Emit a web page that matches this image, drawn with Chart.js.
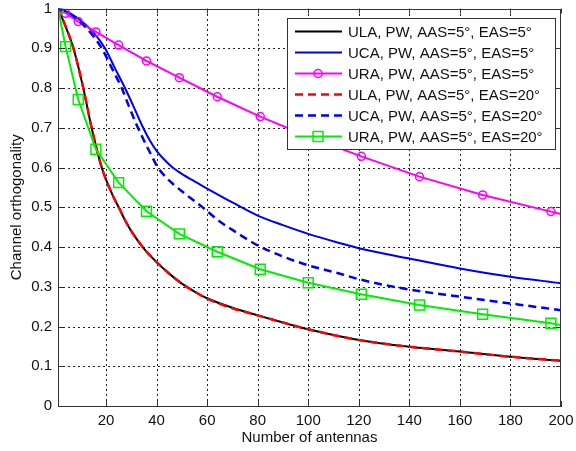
<!DOCTYPE html>
<html>
<head>
<meta charset="utf-8">
<script src="https://cdn.jsdelivr.net/npm/chart.js@4.4.0/dist/chart.umd.min.js"></script>
<style>
html, body { margin: 0; padding: 0; background: #fff; }
#wrap { width: 576px; height: 451px; }
</style>
</head>
<body>
<div id="wrap"><canvas id="chart" width="576" height="451"></canvas></div>
<script>
// series labels (legend order)
var seriesLabels = [
    'ULA, PW, AAS=5°, EAS=5°',
    'UCA, PW, AAS=5°, EAS=5°',
    'URA, PW, AAS=5°, EAS=5°',
    'ULA, PW, AAS=5°, EAS=20°',
    'UCA, PW, AAS=5°, EAS=20°',
    'URA, PW, AAS=5°, EAS=20°'
];

var xTicks = [20, 40, 60, 80, 100, 120, 140, 160, 180, 200];
var yTicks = [0, 0.1, 0.2, 0.3, 0.4, 0.5, 0.6, 0.7, 0.8, 0.9, 1];
var yTickLabels = ['0', '0.1', '0.2', '0.3', '0.4', '0.5', '0.6', '0.7', '0.8', '0.9', '1'];

// ULA (both EAS values lie on top of each other)
var ulaX = [1, 4, 7.1, 11, 14.3, 18.3, 22.5, 25.5, 27, 30, 35, 40, 45, 50, 55, 60, 70, 80, 90, 100, 120, 140, 160, 180, 200];
var ulaY5 = [1, 0.955, 0.9, 0.8, 0.7, 0.6, 0.532, 0.494, 0.474, 0.44, 0.396, 0.362, 0.333, 0.308, 0.288, 0.271, 0.247, 0.228, 0.21, 0.193, 0.166, 0.149, 0.137, 0.124, 0.114];
var ulaY20 = [1, 0.955, 0.9, 0.8, 0.7, 0.6, 0.532, 0.494, 0.474, 0.44, 0.396, 0.362, 0.333, 0.308, 0.288, 0.27, 0.246, 0.228, 0.21, 0.193, 0.166, 0.149, 0.137, 0.124, 0.114];

// UCA
var ucaX5 = [1, 5, 10, 15, 19.6, 23.5, 27.5, 31, 34.3, 37, 40, 43, 46, 50, 55, 60, 70, 80, 90, 100, 113, 120, 140, 160, 180, 200];
var ucaY5 = [1, 0.99, 0.97, 0.94, 0.9, 0.85, 0.8, 0.752, 0.705, 0.672, 0.642, 0.62, 0.602, 0.584, 0.565, 0.547, 0.512, 0.479, 0.455, 0.433, 0.409, 0.397, 0.371, 0.346, 0.325, 0.309];
var ucaX20 = [1, 5, 10, 15, 18.3, 22.3, 26.2, 29, 31.8, 35, 38, 40.3, 43, 46.6, 50, 54.5, 58, 65, 70, 80, 90, 100, 113, 120, 140, 160, 180, 200];
var ucaY20 = [1, 0.99, 0.965, 0.93, 0.9, 0.85, 0.8, 0.755, 0.712, 0.668, 0.63, 0.602, 0.58, 0.558, 0.54, 0.518, 0.501, 0.464, 0.443, 0.404, 0.376, 0.354, 0.332, 0.319, 0.293, 0.275, 0.258, 0.241];

// URA (square numbers of antennas)
var uraX = [1, 4, 9, 16, 25, 36, 49, 64, 81, 100, 121, 144, 169, 196, 200];
var uraY5 = [1, 0.988, 0.967, 0.941, 0.908, 0.868, 0.826, 0.778, 0.728, 0.678, 0.628, 0.577, 0.531, 0.489, 0.483];
var uraY20 = [1, 0.904, 0.771, 0.646, 0.562, 0.49, 0.433, 0.388, 0.344, 0.31, 0.281, 0.254, 0.231, 0.208, 0.204];

var FONT = '"Liberation Sans", Arial, Helvetica, sans-serif';

function pts(xs, ys) {
    return xs.map(function(x, i) { return { x: x, y: ys[i] }; });
}

// no marker on the closing point at N=200
function markerRadius(r) {
    return function(ctx) {
        return ctx.raw && ctx.raw.x === 200 ? 0 : r;
    };
}

var smooth = { tension: 0.4, cubicInterpolationMode: 'monotone' };

var datasets = [
    Object.assign({ label: seriesLabels[0], data: pts(ulaX, ulaY5), borderColor: '#000', borderWidth: 2, pointRadius: 0, order: 5 }, smooth),
    Object.assign({ label: seriesLabels[1], data: pts(ucaX5, ucaY5), borderColor: '#0000f0', borderWidth: 2, pointRadius: 0, order: 4 }, smooth),
    { label: seriesLabels[2], data: pts(uraX, uraY5), borderColor: '#ff00ff', borderWidth: 2, tension: 0,
      pointStyle: 'circle', pointRadius: markerRadius(4), pointBorderWidth: 1.5,
      pointBorderColor: '#ff00ff', pointBackgroundColor: 'rgba(0,0,0,0)', order: 3, legendRadius: 4 },
    Object.assign({ label: seriesLabels[3], data: pts(ulaX, ulaY20), borderColor: '#ff0000', borderWidth: 2.5, borderDash: [8, 5], pointRadius: 0, order: 2 }, smooth),
    Object.assign({ label: seriesLabels[4], data: pts(ucaX20, ucaY20), borderColor: '#0000f0', borderWidth: 2.5, borderDash: [8, 5], pointRadius: 0, order: 1 }, smooth),
    { label: seriesLabels[5], data: pts(uraX, uraY20), borderColor: '#00ee00', borderWidth: 2, tension: 0,
      pointStyle: 'rect', pointRadius: markerRadius(7), pointBorderWidth: 1.5,
      pointBorderColor: '#00ee00', pointBackgroundColor: 'rgba(0,0,0,0)', order: 0, legendRadius: 7 }
];

// dotted grid under the lines
var dotGrid = {
    id: 'dotGrid',
    beforeDatasetsDraw: function(chart) {
        var ctx = chart.ctx, a = chart.chartArea;
        var xs = chart.scales.x, ys = chart.scales.y;
        ctx.save();
        ctx.setLineDash([2, 3]);
        ctx.strokeStyle = '#222';
        ctx.lineWidth = 1;
        ctx.beginPath();
        xTicks.forEach(function(v) {
            if (v === 200) return;
            var px = Math.round(xs.getPixelForValue(v)) + 0.5;
            ctx.moveTo(px, a.bottom); ctx.lineTo(px, a.top);
        });
        yTicks.forEach(function(v) {
            if (v === 0 || v === 1) return;
            var py = Math.round(ys.getPixelForValue(v)) + 0.5;
            ctx.moveTo(a.left, py); ctx.lineTo(a.right, py);
        });
        ctx.stroke();
        ctx.restore();
    }
};

// axes box on top of the lines, with small inward ticks like matlab
var framePlugin = {
    id: 'frame',
    afterDatasetsDraw: function(chart) {
        var ctx = chart.ctx, a = chart.chartArea;
        var xs = chart.scales.x, ys = chart.scales.y;
        ctx.save();
        ctx.strokeStyle = '#333';
        ctx.lineWidth = 1;
        ctx.strokeRect(Math.round(a.left) + 0.5, Math.round(a.top) + 0.5,
            Math.round(a.right - a.left) - 1, Math.round(a.bottom - a.top) - 1);
        ctx.beginPath();
        xTicks.forEach(function(v) {
            var px = Math.round(xs.getPixelForValue(v)) + 0.5;
            ctx.moveTo(px, a.bottom); ctx.lineTo(px, a.bottom - 5);
            ctx.moveTo(px, a.top); ctx.lineTo(px, a.top + 5);
        });
        yTicks.forEach(function(v) {
            var py = Math.round(ys.getPixelForValue(v)) + 0.5;
            ctx.moveTo(a.left, py); ctx.lineTo(a.left + 5, py);
            ctx.moveTo(a.right, py); ctx.lineTo(a.right - 5, py);
        });
        ctx.stroke();
        ctx.restore();
    }
};

// legend box inside the plot, top right
var boxLegend = {
    id: 'boxLegend',
    afterDraw: function(chart) {
        var ctx = chart.ctx, a = chart.chartArea;
        var w = 268, h = 131;
        var x0 = Math.round(a.right) - 6 - w, y0 = Math.round(a.top) + 9;
        ctx.save();
        ctx.fillStyle = '#fff';
        ctx.fillRect(x0, y0, w, h);
        ctx.strokeStyle = '#333';
        ctx.lineWidth = 1;
        ctx.strokeRect(x0 + 0.5, y0 + 0.5, w, h);
        chart.data.datasets.forEach(function(ds, i) {
            var cy = y0 + 13.5 + i * 21;
            ctx.setLineDash(ds.borderDash || []);
            ctx.strokeStyle = ds.borderColor;
            ctx.lineWidth = ds.borderWidth;
            ctx.beginPath();
            ctx.moveTo(x0 + 8, cy);
            ctx.lineTo(x0 + 55, cy);
            ctx.stroke();
            ctx.setLineDash([]);
            if (ds.legendRadius) {
                ctx.fillStyle = 'rgba(0,0,0,0)';
                ctx.lineWidth = 1.5;
                Chart.helpers.drawPoint(ctx, { pointStyle: ds.pointStyle, radius: ds.legendRadius, borderWidth: 1.5, rotation: 0 }, x0 + 31, cy);
            }
            ctx.fillStyle = '#111';
            ctx.font = '15px ' + FONT;
            ctx.textBaseline = 'middle';
            ctx.textAlign = 'left';
            ctx.fillText(ds.label, x0 + 61, cy + 1);
        });
        ctx.restore();
    }
};

new Chart(document.getElementById('chart'), {
    type: 'line',
    data: { datasets: datasets },
    options: {
        responsive: false,
        animation: false,
        devicePixelRatio: 1,
        layout: { padding: { left: 0, right: 15, top: 8, bottom: 0 } },
        plugins: {
            legend: { display: false },
            tooltip: { enabled: false }
        },
        scales: {
            x: {
                type: 'linear',
                min: 1,
                max: 200,
                afterBuildTicks: function(scale) {
                    scale.ticks = xTicks.map(function(v) { return { value: v }; });
                },
                afterFit: function(scale) {
                    scale.height = 45;
                    scale.paddingLeft = 0;
                    scale.paddingRight = 0;
                },
                ticks: {
                    color: '#111',
                    padding: 6,
                    maxRotation: 0,
                    font: { family: FONT, size: 15 },
                    callback: function(v) { return String(v); }
                },
                grid: { display: false, drawTicks: false },
                border: { display: true, color: '#333', width: 1 },
                title: {
                    display: true,
                    text: 'Number of antennas',
                    color: '#111',
                    font: { family: FONT, size: 15 },
                    padding: { top: 0, bottom: 4 }
                }
            },
            y: {
                type: 'linear',
                min: 0,
                max: 1,
                afterBuildTicks: function(scale) {
                    scale.ticks = yTicks.map(function(v) { return { value: v }; });
                },
                afterFit: function(scale) {
                    scale.width = 58;
                    scale.paddingTop = 0;
                    scale.paddingBottom = 0;
                },
                ticks: {
                    color: '#111',
                    padding: 6,
                    font: { family: FONT, size: 15, lineHeight: 1 },
                    callback: function(v) {
                        var i = yTicks.indexOf(v);
                        return i >= 0 ? yTickLabels[i] : '';
                    }
                },
                grid: { display: false, drawTicks: false },
                border: { display: true, color: '#333', width: 1 },
                title: {
                    display: true,
                    text: 'Channel orthogonality',
                    color: '#111',
                    font: { family: FONT, size: 15 },
                    padding: { top: 8, bottom: 0 }
                }
            }
        }
    },
    plugins: [dotGrid, framePlugin, boxLegend]
});
</script>
</body>
</html>
